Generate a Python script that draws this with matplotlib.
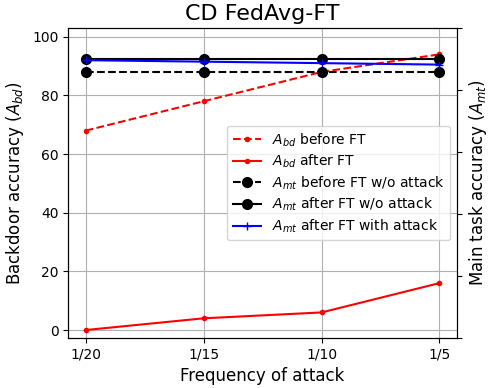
import matplotlib
matplotlib.use("Agg")
import matplotlib.pyplot as plt


FREQ_LABELS = ["1/20", "1/15", "1/10", "1/5"]
ABD_BEFORE_FT = [68, 78, 88, 94]
ABD_AFTER_FT = [0, 4, 6, 16]
AMT_BEFORE_FT_NO_ATTACK = [88, 88, 88, 88]
AMT_AFTER_FT_NO_ATTACK = [92.5, 92.5, 92.5, 92.5]
AMT_AFTER_FT_ATTACK = [92, 91.5, 91, 90.5]


def main():
    fig, ax = plt.subplots(figsize=(4.9, 3.88), dpi=100)
    x = list(range(len(FREQ_LABELS)))

    ax.plot(x, ABD_BEFORE_FT, "r.--", label="$A_{bd}$ before FT")
    ax.plot(x, ABD_AFTER_FT, "r.-", label="$A_{bd}$ after FT")
    ax.plot(x, AMT_BEFORE_FT_NO_ATTACK, "ko--", markersize=7,
            label="$A_{mt}$ before FT w/o attack")
    ax.plot(x, AMT_AFTER_FT_NO_ATTACK, "ko-", markersize=7,
            label="$A_{mt}$ after FT w/o attack")
    ax.plot(x, AMT_AFTER_FT_ATTACK, "b+-", label="$A_{mt}$ after FT with attack")

    ax.set_xticks(x)
    ax.set_xticklabels(FREQ_LABELS)
    ax.set_ylim(-2.7, 103)
    ax.set_xlabel("Frequency of attack", fontsize=12)
    ax.set_ylabel("Backdoor accuracy ($A_{bd}$)", fontsize=12)
    ax.set_title("CD FedAvg-FT", fontsize=16)
    ax.grid(True)
    ax.legend(loc="center right", labelspacing=0.3)

    # right axis only carries the label, tick labels are blank
    ax2 = ax.twinx()
    ax2.set_yticklabels([])
    ax2.set_ylabel("Main task accuracy ($A_{mt}$)", fontsize=12, labelpad=0)

    fig.subplots_adjust(left=0.139, right=0.933, top=0.928, bottom=0.129)
    fig.savefig("out.png")


if __name__ == "__main__":
    main()
